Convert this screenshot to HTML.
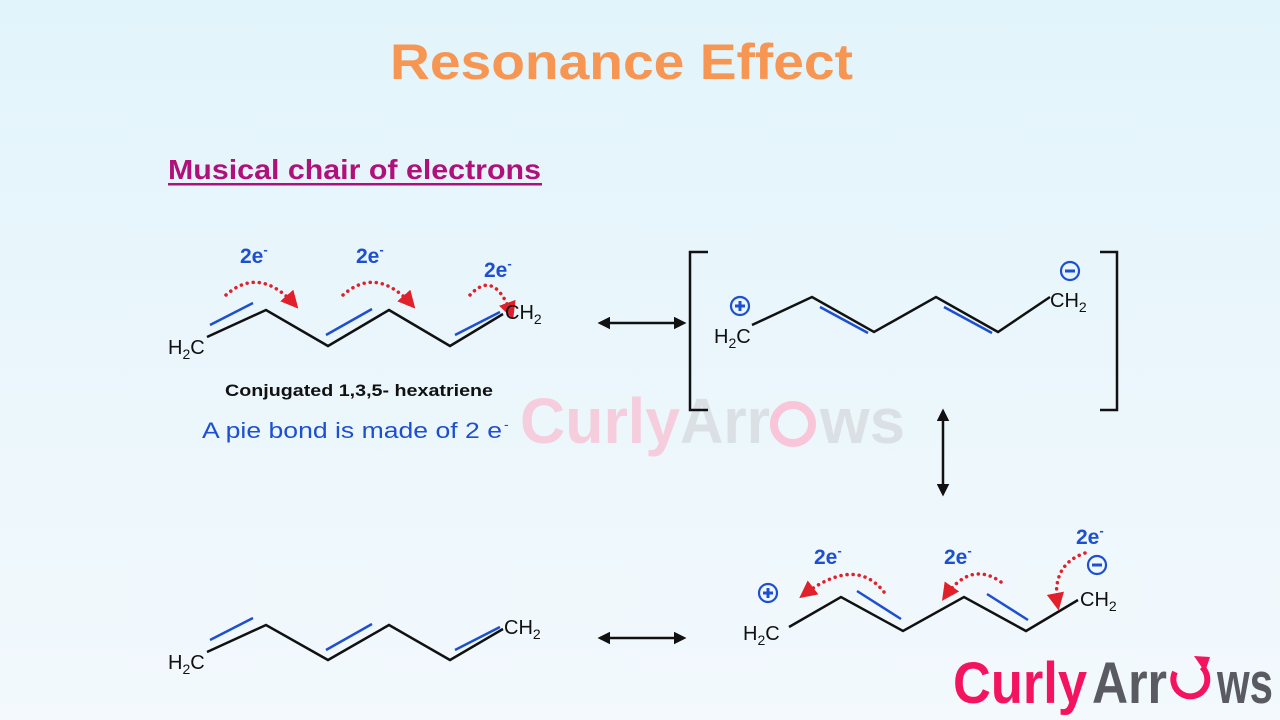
<!DOCTYPE html>
<html><head><meta charset="utf-8"><style>
html,body{margin:0;padding:0;width:1280px;height:720px;overflow:hidden;background:linear-gradient(#e2f4fb,#f3f9fd);}
svg{display:block;font-family:"Liberation Sans",Arial,sans-serif;}
</style></head><body>
<svg width="1280" height="720" viewBox="0 0 1280 720">
<defs>
<marker id="ar" viewBox="0 0 10 10" refX="8" refY="5" markerWidth="5" markerHeight="5" orient="auto-start-reverse"><path d="M0,0L10,5L0,10z" fill="#111"/></marker>
<marker id="rd" viewBox="0 0 10 10" refX="8" refY="5" markerWidth="5" markerHeight="5" orient="auto"><path d="M0,0L10,5L0,10z" fill="#e0202a"/></marker>
</defs>
<text x="390" y="79" font-size="50" font-weight="bold" fill="#f79653" textLength="463" lengthAdjust="spacingAndGlyphs">Resonance Effect</text>
<text x="168" y="179" font-size="28" font-weight="bold" fill="#b0107a" textLength="373" lengthAdjust="spacingAndGlyphs">Musical chair of electrons</text>
<rect x="168" y="183" width="374" height="2.5" fill="#b0107a"/>

<g font-size="64" font-weight="bold" opacity="0.85">
<text x="520" y="443" fill="#f8c6d8" textLength="160" lengthAdjust="spacingAndGlyphs">Curly</text>
<text x="680" y="443" fill="#d9dde2" textLength="90" lengthAdjust="spacingAndGlyphs">Arr</text>
<text x="820" y="443" fill="#d9dde2" textLength="85" lengthAdjust="spacingAndGlyphs">ws</text>
</g>
<circle cx="793" cy="424" r="19" fill="none" stroke="#f8c6d8" stroke-width="8"/>

<g stroke="#111" stroke-width="2.5" fill="none">
<polyline points="207,337 266,310 328,346 389,310 450,346 503,314"/>
<polyline points="752,325 812,297 874,332 936,297 998,332 1050,297"/>
<polyline points="207,652 266,625 328,660 389,625 450,660 503,629"/>
<polyline points="789,627 841,597 903,631 964,597 1026,631 1078,600"/>
<polyline points="708,252 690,252 690,410 708,410"/>
<polyline points="1100,252 1117,252 1117,410 1100,410"/>
</g>
<g stroke="#111" stroke-width="2.5">
<line x1="600" y1="323" x2="684" y2="323" marker-start="url(#ar)" marker-end="url(#ar)"/>
<line x1="600" y1="638" x2="684" y2="638" marker-start="url(#ar)" marker-end="url(#ar)"/>
<line x1="943" y1="411" x2="943" y2="494" marker-start="url(#ar)" marker-end="url(#ar)"/>
</g>
<g stroke="#1d4fd0" stroke-width="2.5">
<line x1="210" y1="325" x2="253" y2="303"/><line x1="326" y1="335" x2="372" y2="309"/><line x1="455" y1="335" x2="500" y2="312"/>
<line x1="820" y1="307" x2="868" y2="333"/><line x1="944" y1="307" x2="992" y2="333"/>
<line x1="210" y1="640" x2="253" y2="618"/><line x1="326" y1="650" x2="372" y2="624"/><line x1="455" y1="650" x2="500" y2="627"/>
<line x1="857" y1="591" x2="901" y2="619"/><line x1="987" y1="594" x2="1028" y2="620"/>
</g>
<g stroke="#e0202a" stroke-width="3.5" fill="none" stroke-dasharray="0.1,6" stroke-linecap="round" marker-end="url(#rd)">
<path d="M226,295 Q260,265 296,306"/>
<path d="M343,295 Q377,265 413,306"/>
<path d="M470,295 Q495,268 512,316"/>
<path d="M884,592 Q855,555 802,596"/>
<path d="M1001,582 Q970,560 944,598"/>
<path d="M1085,553 Q1050,565 1058,607"/>
</g>
<g font-size="21" font-weight="bold" fill="#1d4fd0">
<text x="240" y="263">2e<tspan font-size="13" dy="-9">-</tspan></text>
<text x="356" y="263">2e<tspan font-size="13" dy="-9">-</tspan></text>
<text x="484" y="277">2e<tspan font-size="13" dy="-9">-</tspan></text>
<text x="814" y="564">2e<tspan font-size="13" dy="-9">-</tspan></text>
<text x="944" y="564">2e<tspan font-size="13" dy="-9">-</tspan></text>
<text x="1076" y="544">2e<tspan font-size="13" dy="-9">-</tspan></text>
</g>
<g fill="none" stroke="#1d4fd0" stroke-width="2.2">
<circle cx="740" cy="306" r="9"/><circle cx="1070" cy="271" r="9"/>
<circle cx="768" cy="593" r="9"/><circle cx="1097" cy="565" r="9"/>
</g>
<g stroke="#1d4fd0" stroke-width="3">
<line x1="735" y1="306" x2="745" y2="306"/><line x1="740" y1="301" x2="740" y2="311"/>
<line x1="1065" y1="271" x2="1075" y2="271"/>
<line x1="763" y1="593" x2="773" y2="593"/><line x1="768" y1="588" x2="768" y2="598"/>
<line x1="1092" y1="565" x2="1102" y2="565"/>
</g>
<g font-size="20" fill="#111">
<text x="168" y="354">H<tspan font-size="14" dy="5">2</tspan><tspan dy="-5">C</tspan></text>
<text x="505" y="319">CH<tspan font-size="14" dy="5">2</tspan></text>
<text x="714" y="343">H<tspan font-size="14" dy="5">2</tspan><tspan dy="-5">C</tspan></text>
<text x="1050" y="307">CH<tspan font-size="14" dy="5">2</tspan></text>
<text x="168" y="669">H<tspan font-size="14" dy="5">2</tspan><tspan dy="-5">C</tspan></text>
<text x="504" y="634">CH<tspan font-size="14" dy="5">2</tspan></text>
<text x="743" y="640">H<tspan font-size="14" dy="5">2</tspan><tspan dy="-5">C</tspan></text>
<text x="1080" y="606">CH<tspan font-size="14" dy="5">2</tspan></text>
</g>
<text x="225" y="396" font-size="17" font-weight="bold" fill="#111" textLength="268" lengthAdjust="spacingAndGlyphs">Conjugated 1,3,5- hexatriene</text>
<text x="202" y="438" font-size="22" fill="#1d4fd0" textLength="300" lengthAdjust="spacingAndGlyphs">A pie bond is made of 2 e</text>
<text x="504" y="429" font-size="14" fill="#1d4fd0">-</text>

<g font-size="58" font-weight="bold">
<text x="953" y="703" fill="#f4135f" textLength="134" lengthAdjust="spacingAndGlyphs">Curly</text>
<text x="1092" y="703" fill="#5a5b62" textLength="75" lengthAdjust="spacingAndGlyphs">Arr</text>
<text x="1217" y="703" fill="#5a5b62" textLength="56" lengthAdjust="spacingAndGlyphs">ws</text>
</g>
<path d="M1175,672 A17,17 0 1 0 1202,667" fill="none" stroke="#f4135f" stroke-width="6"/>
<path d="M1194,656 L1210,657 L1205,672 z" fill="#f4135f"/>
</svg>
</body></html>
